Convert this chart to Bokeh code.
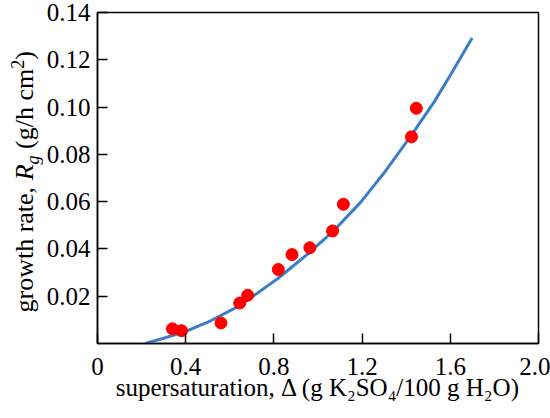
import math
from bokeh.plotting import figure
from bokeh.layouts import row
from bokeh.models import FixedTicker, ColumnDataSource, Range1d, NumeralTickFormatter
from bokeh.core.properties import value
from bokeh.embed import file_html
from bokeh.resources import INLINE

# measured data (supersaturation vs growth rate)
delta = [0.340, 0.381, 0.560, 0.645, 0.681, 0.820, 0.882, 0.963, 1.066, 1.115, 1.424, 1.446]
rate = [0.0062, 0.0054, 0.0087, 0.0171, 0.0204, 0.0313, 0.0376, 0.0405, 0.0476, 0.0589, 0.0874, 0.0995]

# fitted curve
curve_delta = [0.216, 0.30, 0.40, 0.50, 0.645, 0.818, 0.963, 1.067, 1.194, 1.30, 1.423, 1.527, 1.60, 1.699]
curve_rate = [0.0, 0.0022, 0.0051, 0.0090, 0.0160, 0.0275, 0.0386, 0.0473, 0.0598, 0.0722, 0.0880, 0.1022, 0.1135, 0.1292]

x_ticks = [0, 0.4, 0.8, 1.2, 1.6, 2.0]
y_ticks = [0.02, 0.04, 0.06, 0.08, 0.10, 0.12, 0.14]

x_label = "supersaturation, Δ (g K₂SO₄/100 g H₂O)"
# y label pieces: text, style, size(px), baseline shift(px), advance(px)
y_label_pieces = [
    ("growth rate,", "normal", 26, 0, 5.082 * 26),
    ("R", "italic", 26, 0, 0.611 * 26),
    ("g", "italic", 18, 8, 0.5 * 18 + 0.25 * 26),
    ("(g/h cm", "normal", 26, 0, 3.083 * 26),
    ("2", "normal", 18, -7, 0.5 * 18),
    (")", "normal", 26, 0, 0.333 * 26),
]

FONT = "Liberation Serif"
H = 418
LW = 43
TOP, BOTTOM = 12, 75   # frame borders of the main plot

# ---- main plot ----
p = figure(width=550 - LW, height=H, x_range=Range1d(0, 2.0), y_range=Range1d(0, 0.14),
           output_backend="svg", toolbar_location=None,
           min_border_left=97 - LW, min_border_right=12, min_border_top=TOP, min_border_bottom=BOTTOM)

p.xgrid.visible = False
p.ygrid.visible = False
p.outline_line_color = "black"
p.outline_line_width = 1.5
p.outline_line_alpha = 1.0
p.background_fill_color = "white"
p.border_fill_color = "white"

for ax in (p.xaxis[0], p.yaxis[0]):
    ax.axis_line_width = 1.5
    ax.axis_line_color = "black"
    ax.major_tick_in = 10
    ax.major_tick_out = 0
    ax.major_tick_line_width = 1.5
    ax.major_tick_line_color = "black"
    ax.minor_tick_line_color = None
    ax.major_label_text_font = FONT
    ax.major_label_text_font_size = "25px"
    ax.major_label_text_color = "black"

p.xaxis.ticker = FixedTicker(ticks=x_ticks)
p.yaxis.ticker = FixedTicker(ticks=y_ticks)
p.xaxis.formatter = NumeralTickFormatter(format="0.0")
p.yaxis.formatter = NumeralTickFormatter(format="0.00")
p.xaxis.major_label_overrides = {0: "0"}
p.xaxis.major_label_standoff = 14
p.yaxis.major_label_standoff = 7

p.xaxis.axis_label = x_label
p.xaxis.axis_label_text_font = FONT
p.xaxis.axis_label_text_font_size = "25px"
p.xaxis.axis_label_text_font_style = "normal"
p.xaxis.axis_label_text_color = "black"
p.xaxis.axis_label_standoff = -4

src = ColumnDataSource(data=dict(x=curve_delta, y=curve_rate))
p.line("x", "y", source=src, line_color="#3d7cc8", line_width=3)
pts = ColumnDataSource(data=dict(x=delta, y=rate))
p.scatter("x", "y", source=pts, size=12, fill_color="#ff0000", line_color="#ff0000")

# ---- y-axis label strip (italic R, subscript g, superscript 2) ----
# its frame is aligned with the main frame, so map it to page pixels (y up)
lab = figure(width=LW, height=H, x_range=Range1d(0, LW), y_range=Range1d(BOTTOM, H - TOP),
             output_backend="svg", toolbar_location=None, min_border=0,
             min_border_top=TOP, min_border_bottom=BOTTOM,
             x_axis_location=None, y_axis_location=None)
lab.outline_line_color = None
lab.background_fill_color = "white"
lab.border_fill_color = "white"
lab.xgrid.visible = False
lab.ygrid.visible = False

pos = H - 312.0
for txt, style, size, dx, adv in y_label_pieces:
    lab.text(x=[24 + dx], y=[pos], text=[txt], angle=math.pi / 2,
             text_align="left", text_baseline="alphabetic",
             text_font=value(FONT), text_font_size=value(f"{size}px"),
             text_font_style=style, text_color="black")
    pos += adv

layout = row(lab, p)
open("out.html", "w").write(file_html(layout, INLINE))
